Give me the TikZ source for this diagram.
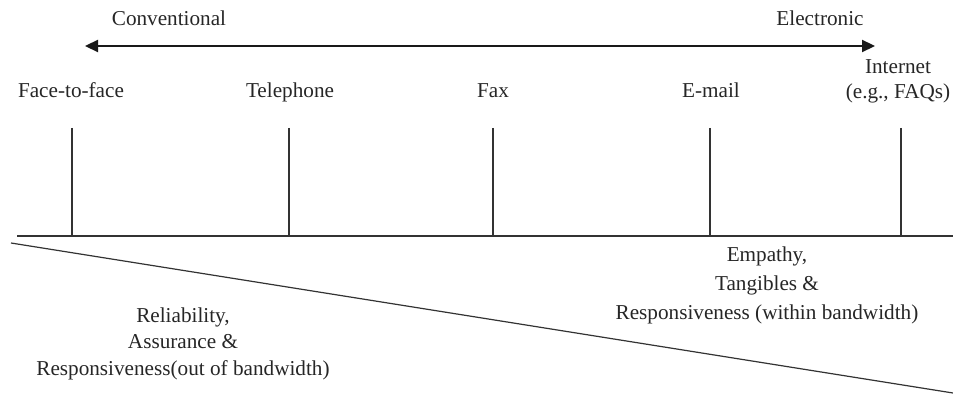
\documentclass[tikz,border=0pt]{standalone}
\usepackage{fontspec}
\setmainfont{Liberation Serif}
\usetikzlibrary{arrows.meta}
\begin{document}
\begin{tikzpicture}[x=0.5pt,y=-0.5pt,
  lbl/.style={inner sep=0pt,anchor=base,font=\fontsize{10.6}{12.5}\selectfont,text=black!85,align=center},
  ln/.style={line width=0.6pt,draw=black!80},
  arr/.style={line width=1.1pt,draw=black!90,{Triangle[length=6.5pt,width=6pt]}-{Triangle[length=6.5pt,width=6pt]}}]
\useasboundingbox (0,0) rectangle (953,395);
% top arrow
\coordinate (al) at (85,46);
\coordinate (ar) at (875,46);
\draw[arr] (al) -- (ar);
\node[lbl] (conv) at (169,26) {Conventional};
\node[lbl] (elec) at (820,26) {Electronic};
% labels
\node[lbl] (f2f) at (71,98) {Face-to-face};
\node[lbl] (tel) at (290,98) {Telephone};
\node[lbl] (fax) at (493,98) {Fax};
\node[lbl] (mail) at (711,98) {E-mail};
\node[lbl] (net) at (898,99) {Internet\\(e.g., FAQs)};
% baseline
\coordinate (bl) at (17,236);
\coordinate (br) at (953,236);
\draw[ln] (bl) -- (br);
% ticks
\foreach \n/\x in {a/72,b/289,c/493,d/710,e/901}{
  \coordinate (t\n) at (\x,128);
  \coordinate (b\n) at (\x,236);
  \draw[ln] (t\n) -- (b\n);
}
% diagonal
\coordinate (dl) at (11,243);
\coordinate (dr) at (953,393);
\draw[ln] (dl) -- (dr);
% bottom texts
\node[lbl,font=\fontsize{10.6}{13.1}\selectfont] (rel) at (183,375) {Reliability,\\Assurance \&\\Responsiveness(out of bandwidth)};
\node[lbl,font=\fontsize{10.6}{14.5}\selectfont] (emp) at (767,320) {Empathy,\\Tangibles \&\\Responsiveness (within bandwidth)};
\end{tikzpicture}
\end{document}
